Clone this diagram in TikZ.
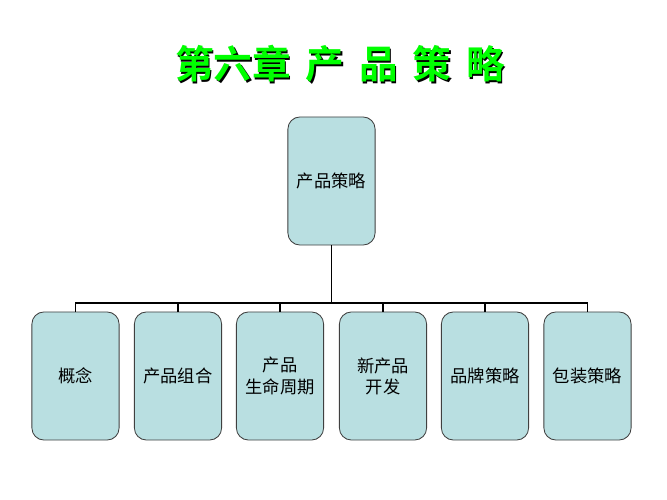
\documentclass[tikz,border=0pt]{standalone}
\usepackage{fontspec}
\newfontfamily\cjk{Noto Sans CJK SC}
\newfontfamily\cjkbold{Noto Sans CJK SC Bold}
\usepackage{xcolor}
\definecolor{boxfill}{HTML}{B9DFE1}
\definecolor{boxline}{HTML}{404040}
\definecolor{titlegreen}{HTML}{00FF00}
\usetikzlibrary{positioning}

\newcommand{\titletext}{第六章\hspace{0.37cm}产\hspace{0.37cm}品\hspace{0.37cm}策\hspace{0.37cm}略}

\tikzset{
	card/.style={draw=boxline, fill=boxfill, rounded corners=0.3cm, minimum width=2.18cm, minimum height=3.2cm, align=center, font=\cjk\fontsize{12.3}{15}\selectfont, line width=0.6pt},
	tree/.style={line width=1.2pt, black},
	headline/.style={font=\cjkbold\fontsize{27.5}{32}\selectfont, inner sep=0pt}
}

\begin{document}
\begin{tikzpicture}[x=0.025cm, y=-0.025cm]
	\useasboundingbox (0,0) rectangle (667,500);
	
	% title with shadow
	\node[headline, text=black] at (341.5,65.5) {\titletext};
	\node[headline, text=titlegreen] (title) at (340,64) {\titletext};
	
	\node[card] (root) at (331.5,181) {产品策略};
	
	\foreach \name/\x/\txt in {concept/75.5/概念, mix/178/产品组合, life/280/产品\\生命周期, newprod/383/新产品\\开发, brand/485/品牌策略, pack/587.5/包装策略} {
		\node[card] (\name) at (\x,376) {\txt};
	}
	
	\coordinate (bus) at (331.5,303);
	\draw[tree] (root.south) -- (bus);
	\draw[tree] (concept.north) |- (bus) -| (pack.north);
	\foreach \name in {mix, life, newprod, brand} {
		\draw[tree] (\name.north) -- (\name.north |- bus);
	}
\end{tikzpicture}
\end{document}
